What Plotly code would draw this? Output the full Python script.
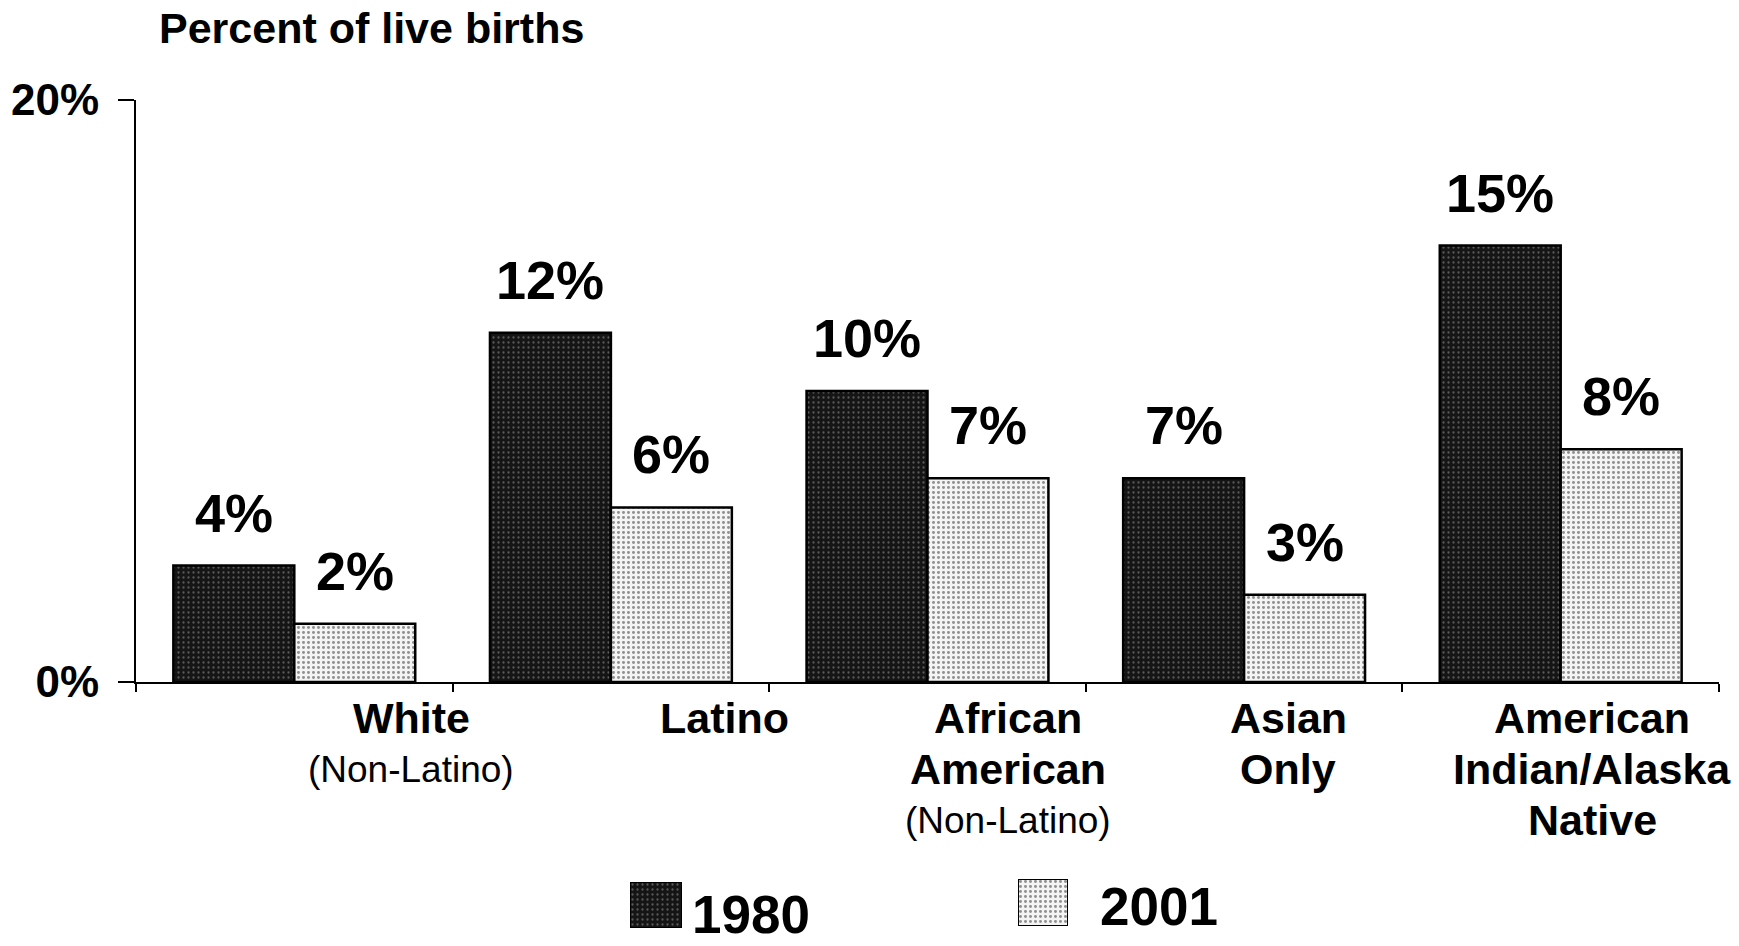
import plotly.graph_objects as go

# ---- data -------------------------------------------------------------
categories = ["White (Non-Latino)", "Latino", "African American (Non-Latino)",
              "Asian Only", "American Indian/Alaska Native"]
values_1980 = [4, 12, 10, 7, 15]
values_2001 = [2, 6, 7, 3, 8]
series_names = ["1980", "2001"]

# category label lines: (text, bold)
label_lines = [
    [("White", True), ("(Non-Latino)", False)],
    [("Latino", True)],
    [("African", True), ("American", True), ("(Non-Latino)", False)],
    [("Asian", True), ("Only", True)],
    [("American", True), ("Indian/Alaska", True), ("Native", True)],
]
# horizontal shift of each category label block (in category units)
label_offsets = [0.37, 0.36, 0.255, 0.14, 0.10]

y_ticks = [0, 20]
y_ticktext = ["0%", "20%"]

# ---- layout geometry (pixels) -----------------------------------------
W, H = 1739, 946
ML, MR, MT, MB = 136, 20, 100, 10
PLOT_BOTTOM = 682
PW = W - ML - MR
PH = H - MT - MB


def px_x(px):
    return (px - ML) / PW


def px_y(py):
    return (H - MB - py) / PH


FONT = "Liberation Sans, Arial, sans-serif"
BARGAP = 0.236
half = (1 - BARGAP) / 4

dark_pattern = dict(shape=".", bgcolor="#151515", fgcolor="#a0a0a0",
                    size=5, solidity=0.16)
light_pattern = dict(shape=".", bgcolor="#f4f4f4", fgcolor="#2a2a2a",
                     size=5, solidity=0.28)
bar_line = dict(color="black", width=2.5)

fig = go.Figure()
fig.add_trace(go.Bar(x=categories, y=values_1980, name=series_names[0],
                     marker=dict(color="#151515", pattern=dark_pattern, line=bar_line),
                     showlegend=False, hoverinfo="skip"))
fig.add_trace(go.Bar(x=categories, y=values_2001, name=series_names[1],
                     marker=dict(color="#f4f4f4", pattern=light_pattern, line=bar_line),
                     showlegend=False, hoverinfo="skip"))

# legend swatches drawn as single bars on small hidden axes
for k, (color, pat) in enumerate([("#151515", dark_pattern), ("#f4f4f4", light_pattern)]):
    fig.add_trace(go.Bar(x=[0], y=[1], width=[1],
                         marker=dict(color=color, pattern=pat, line=dict(color="black", width=2)),
                         xaxis=f"x{k + 2}", yaxis=f"y{k + 2}",
                         showlegend=False, hoverinfo="skip"))

annotations = []

# value labels above bars
for i, (a, b) in enumerate(zip(values_1980, values_2001)):
    for v, dx in ((a, -half), (b, half)):
        annotations.append(dict(x=i + dx, y=v, xref="x", yref="y",
                                text=f"{v}%", showarrow=False,
                                yanchor="middle", yshift=53,
                                font=dict(family=FONT, size=54, color="black", weight="bold")))

# category labels below the axis
line_shifts = [-36, -87, -138]
for i, lines in enumerate(label_lines):
    for j, (txt, bold) in enumerate(lines):
        annotations.append(dict(x=i + label_offsets[i], y=0, xref="x", yref="y domain",
                                text=txt, showarrow=False, yanchor="middle",
                                yshift=line_shifts[j],
                                font=dict(family=FONT, size=43 if bold else 37, color="black",
                                          weight="bold" if bold else "normal")))

# legend texts
annotations.append(dict(x=px_x(690), y=px_y(914), xref="paper", yref="paper",
                        text=series_names[0], showarrow=False, xanchor="left", yanchor="middle",
                        font=dict(family=FONT, size=53, color="black", weight="bold")))
annotations.append(dict(x=px_x(1098), y=px_y(906), xref="paper", yref="paper",
                        text=series_names[1], showarrow=False, xanchor="left", yanchor="middle",
                        font=dict(family=FONT, size=53, color="black", weight="bold")))

hidden = dict(visible=False, fixedrange=True, automargin=False)

fig.update_layout(
    width=W, height=H,
    margin=dict(l=ML, r=MR, t=MT, b=MB, autoexpand=False),
    paper_bgcolor="white", plot_bgcolor="white",
    barmode="group", bargap=BARGAP, bargroupgap=0,
    title=dict(text="Percent of live births", x=159 / W, xref="container", xanchor="left",
               y=1 - 28 / H, yref="container", yanchor="middle", automargin=False,
               font=dict(family=FONT, size=43, color="black", weight="bold")),
    xaxis=dict(type="category", range=[-0.5, len(categories) - 0.5],
               showline=True, linecolor="black", linewidth=2,
               ticks="outside", tickson="boundaries", ticklen=8, tickwidth=2,
               tickcolor="black", showticklabels=False, showgrid=False, zeroline=False,
               fixedrange=True, automargin=False),
    yaxis=dict(range=[0, 20], domain=[px_y(PLOT_BOTTOM), 1],
               showline=True, linecolor="black", linewidth=2,
               tickvals=y_ticks, ticktext=y_ticktext,
               ticks="outside", ticklen=16, tickwidth=2, tickcolor="black",
               ticklabelstandoff=10,
               tickfont=dict(family=FONT, size=44, color="black", weight="bold"),
               showgrid=False, zeroline=False, fixedrange=True, automargin=False),
    xaxis2=dict(domain=[px_x(630), px_x(682)], range=[-0.5, 0.5], anchor="y2", **hidden),
    yaxis2=dict(domain=[px_y(928), px_y(882)], range=[0, 1], anchor="x2", **hidden),
    xaxis3=dict(domain=[px_x(1018), px_x(1068)], range=[-0.5, 0.5], anchor="y3", **hidden),
    yaxis3=dict(domain=[px_y(926), px_y(879)], range=[0, 1], anchor="x3", **hidden),
    annotations=annotations,
    showlegend=False,
)

fig.write_html("out.html", config={"displayModeBar": False})
